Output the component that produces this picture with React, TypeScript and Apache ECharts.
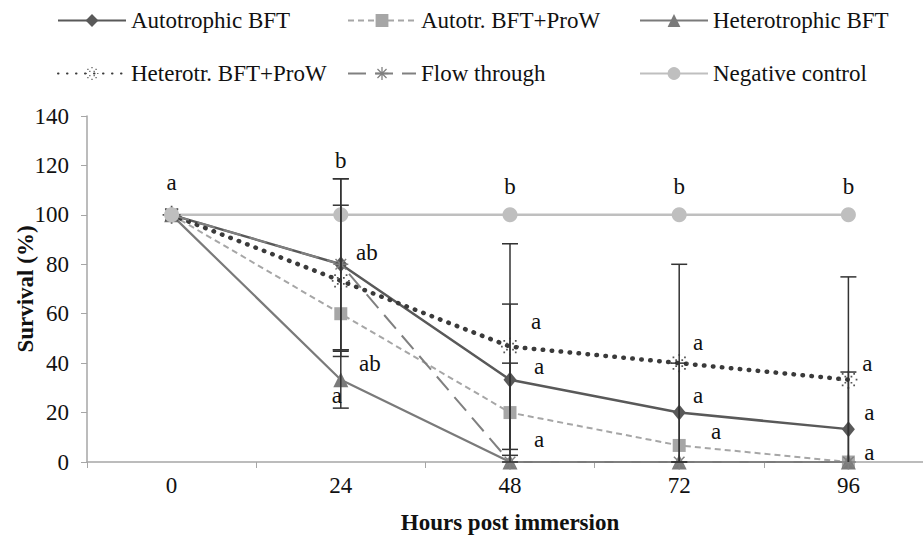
import React, { useEffect, useRef } from "react";
import * as echarts from "echarts";

// Sampling times (hours after immersion)
const hours = ["0", "24", "48", "72", "96"];

// Mean survival (%) per treatment
const autotrophicBFT = [100, 80, 33.3, 20, 13.3];
const autotrBFTProW = [100, 60, 20, 6.7, 0];
const heterotrophicBFT = [100, 33.3, 0, 0, 0];
const heterotrBFTProW = [100, 73.3, 46.7, 40, 33.3];
const flowThrough = [100, 80, 0, 0, 0];
const negativeControl = [100, 100, 100, 100, 100];

// Standard deviations (%) per treatment
const autotrophicBFTSd = [0, 34.6, 30.6, 20, 23.1];
const autotrBFTProWSd = [0, 0, 20, 0, 0];
const heterotrophicBFTSd = [0, 11.5, 0, 0, 0];
const heterotrBFTProWSd = [0, 30.6, 41.6, 40, 41.6];
const flowThroughSd = [0, 34.6, 0, 0, 0];
const negativeControlSd = [0, 0, 0, 0, 0];

// Y axis scale
const yMin = 0;
const yMax = 140;
const yStep = 20;

// Significance letters: time index, anchor value on the survival scale, letter, horizontal shift in px
const letterHour = [0, 1, 1, 1, 1, 2, 2, 2, 2, 3, 3, 3, 3, 4, 4, 4, 4];
const letterAnchor = [113, 122, 84.6, 39.7, 27.1, 111.3, 57, 38.8, 9.3, 111.3, 48.2, 27.1, 12.5, 111.3, 39.7, 20.2, 4];
const letterText = ["a", "b", "ab", "ab", "a", "b", "a", "a", "a", "b", "a", "a", "a", "b", "a", "a", "a"];
const letterShift = [0, 0, 26, 29, -4, 0, 26, 29, 29, 0, 19, 19, 37, 0, 19, 21, 21];

const FONT = "Liberation Serif";
const FS = 23;

// Dotted star marker
function dottedStar(): string {
  const parts: string[] = [];
  const dot = (x: number, y: number) =>
    `M${(x - 0.9).toFixed(2)},${(y - 0.9).toFixed(2)}h1.8v1.8h-1.8z`;
  for (let k = 0; k < 8; k++) {
    const a = (k * Math.PI) / 4;
    const radii = k % 2 ? [4.5, 8.5] : [8.5];
    radii.forEach((r) => parts.push(dot(10 + r * Math.cos(a), 10 + r * Math.sin(a))));
  }
  return "path://" + parts.join(" ");
}

// Asterisk marker made from thin bars
function asterisk(): string {
  const parts: string[] = [];
  const c = 10;
  const L = 9;
  const w = 0.9;
  for (let k = 0; k < 4; k++) {
    const a = (k * Math.PI) / 4;
    const ux = Math.cos(a), uy = Math.sin(a);
    const vx = -uy, vy = ux;
    const p = [
      [c + ux * L + vx * w, c + uy * L + vy * w],
      [c - ux * L + vx * w, c - uy * L + vy * w],
      [c - ux * L - vx * w, c - uy * L - vy * w],
      [c + ux * L - vx * w, c + uy * L - vy * w],
    ];
    parts.push(
      `M${p[0][0].toFixed(2)},${p[0][1].toFixed(2)}L${p[1][0].toFixed(2)},${p[1][1].toFixed(2)}L${p[2][0].toFixed(2)},${p[2][1].toFixed(2)}L${p[3][0].toFixed(2)},${p[3][1].toFixed(2)}Z`
    );
  }
  return "path://" + parts.join(" ");
}

// Legend entries laid out on a 3-column, 2-row grid
const legendNames = [
  "Autotrophic BFT",
  "Autotr. BFT+ProW",
  "Heterotrophic BFT",
  "Heterotr. BFT+ProW",
  "Flow through",
  "Negative control",
];
const legendCols = [57, 347, 639];
const legendRows = [9, 62];

export default function App() {
  const ref = useRef<HTMLDivElement>(null);

  useEffect(() => {
    if (!ref.current) return;
    const chart = echarts.init(ref.current, null, { renderer: "svg" });

    const means = [autotrophicBFT, autotrBFTProW, heterotrophicBFT, heterotrBFTProW, flowThrough, negativeControl];
    const sds = [autotrophicBFTSd, autotrBFTProWSd, heterotrophicBFTSd, heterotrBFTProWSd, flowThroughSd, negativeControlSd];
    const errorData: number[][] = [];
    means.forEach((m, s) => {
      m.forEach((v, i) => {
        if (sds[s][i] > 0) errorData.push([i, v, sds[s][i]]);
      });
    });

    const legends = legendNames.map((name, i) => ({
      left: legendCols[i % 3],
      top: legendRows[Math.floor(i / 3)],
      padding: 0,
      itemWidth: 68,
      itemHeight: 16,
      textStyle: { fontSize: FS, fontFamily: FONT, color: "#111" },
      data: [name],
    }));

    chart.setOption({
      animation: false,
      textStyle: { fontFamily: FONT },
      grid: {
        left: 87,
        top: 116,
        width: 846,
        height: 346,
        containLabel: false,
        outerBoundsMode: "none",
      },
      legend: legends,
      xAxis: {
        type: "category",
        data: hours,
        boundaryGap: true,
        name: "Hours post immersion",
        nameLocation: "middle",
        nameGap: 49,
        nameMoveOverlap: false,
        nameTextStyle: { fontSize: FS, fontWeight: "bold", fontFamily: FONT, color: "#111" },
        axisLine: { lineStyle: { color: "#a6a6a6", width: 1.5 } },
        axisTick: { show: true, length: 6, alignWithLabel: false, lineStyle: { color: "#a6a6a6" } },
        axisLabel: { fontSize: FS, fontFamily: FONT, color: "#111", margin: 12 },
        splitLine: { show: false },
      },
      yAxis: {
        type: "value",
        min: yMin,
        max: yMax,
        interval: yStep,
        name: "Survival (%)",
        nameLocation: "middle",
        nameGap: 50,
        nameMoveOverlap: false,
        nameRotate: 90,
        nameTextStyle: { fontSize: FS, fontWeight: "bold", fontFamily: FONT, color: "#111" },
        axisLine: { show: true, lineStyle: { color: "#a6a6a6", width: 1.5 } },
        axisTick: { show: true, length: 6, lineStyle: { color: "#a6a6a6" } },
        axisLabel: { fontSize: FS, fontFamily: FONT, color: "#111", margin: 18 },
        splitLine: { show: false },
      },
      series: [
        {
          name: "Autotrophic BFT",
          type: "line",
          data: autotrophicBFT,
          symbol: "diamond",
          symbolSize: [13, 16],
          itemStyle: { color: "#595959" },
          lineStyle: { color: "#595959", width: 2.5 },
          z: 3,
        },
        {
          name: "Autotr. BFT+ProW",
          type: "line",
          data: autotrBFTProW,
          symbol: "rect",
          symbolSize: 13,
          itemStyle: { color: "#a6a6a6" },
          lineStyle: { color: "#a6a6a6", width: 2, type: [6, 4] },
          z: 3,
        },
        {
          name: "Heterotrophic BFT",
          type: "line",
          data: heterotrophicBFT,
          symbol: "triangle",
          symbolSize: 15,
          itemStyle: { color: "#7a7a7a" },
          lineStyle: { color: "#7a7a7a", width: 2.2 },
          z: 3,
        },
        {
          name: "Heterotr. BFT+ProW",
          type: "line",
          data: heterotrBFTProW,
          symbol: dottedStar(),
          symbolSize: 18,
          itemStyle: { color: "#555555" },
          lineStyle: { color: "#3a3a3a", width: 4.5, type: [0.5, 8.5], cap: "round" },
          z: 3,
        },
        {
          name: "Flow through",
          type: "line",
          data: flowThrough,
          symbol: asterisk(),
          symbolSize: 15,
          itemStyle: { color: "#808080" },
          lineStyle: { color: "#808080", width: 2, type: [18, 9] },
          z: 3,
        },
        {
          name: "Negative control",
          type: "line",
          data: negativeControl,
          symbol: "circle",
          symbolSize: 15,
          itemStyle: { color: "#bfbfbf" },
          lineStyle: { color: "#bfbfbf", width: 2.5 },
          z: 3,
        },
        {
          name: "error",
          type: "custom",
          data: errorData,
          encode: { x: 0, y: 1 },
          silent: true,
          z: 4,
          renderItem: (params: any, api: any) => {
            const idx = api.value(0);
            const mean = api.value(1);
            const sd = api.value(2);
            const hi = mean + sd;
            const lo = mean - sd;
            const pTop = api.coord([idx, Math.min(hi, yMax)]);
            const pLow = api.coord([idx, Math.max(lo, yMin)]);
            const half = 8;
            const style = { stroke: "#333333", lineWidth: 1.5 };
            const children: any[] = [
              { type: "line", shape: { x1: pTop[0], y1: pTop[1], x2: pLow[0], y2: pLow[1] }, style },
            ];
            if (hi <= yMax)
              children.push({ type: "line", shape: { x1: pTop[0] - half, y1: pTop[1], x2: pTop[0] + half, y2: pTop[1] }, style });
            if (lo >= yMin)
              children.push({ type: "line", shape: { x1: pLow[0] - half, y1: pLow[1], x2: pLow[0] + half, y2: pLow[1] }, style });
            return { type: "group", children };
          },
        },
        {
          name: "letters",
          type: "custom",
          data: letterHour.map((h, i) => [h, letterAnchor[i]]),
          encode: { x: 0, y: 1 },
          silent: true,
          z: 5,
          renderItem: (params: any, api: any) => {
            const i = params.dataIndex;
            const p = api.coord([api.value(0), api.value(1)]);
            return {
              type: "text",
              x: p[0] + letterShift[i],
              y: p[1],
              style: {
                text: letterText[i],
                fontSize: FS,
                fontFamily: FONT,
                fill: "#111111",
                align: "center",
                verticalAlign: "middle",
              },
            };
          },
        },
      ],
    });

    return () => chart.dispose();
  }, []);

  return (
    <div
      ref={ref}
      style={{ position: "absolute", left: 0, top: 0, width: 923, height: 541, background: "#fff" }}
    />
  );
}
